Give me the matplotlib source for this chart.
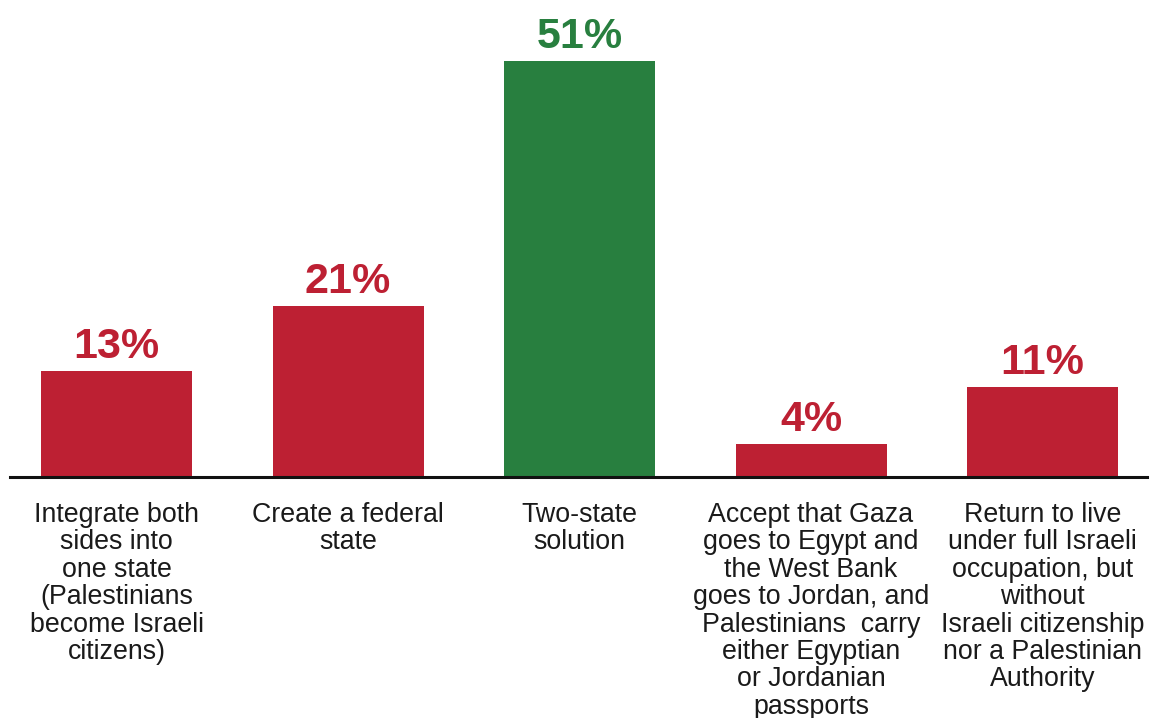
import matplotlib
matplotlib.use("Agg")
import matplotlib.pyplot as plt

categories = [
    "Integrate both\nsides into\none state\n(Palestinians\nbecome Israeli\ncitizens)",
    "Create a federal\nstate",
    "Two-state\nsolution",
    "Accept that Gaza\ngoes to Egypt and\nthe West Bank\ngoes to Jordan, and\nPalestinians  carry\neither Egyptian\nor Jordanian\npassports",
    "Return to live\nunder full Israeli\noccupation, but\nwithout\nIsraeli citizenship\nnor a Palestinian\nAuthority",
]
values = [13, 21, 51, 4, 11]
value_labels = ["13%", "21%", "51%", "4%", "11%"]

RED = "#BD2033"
GREEN = "#287F3F"
colors = [RED, RED, GREEN, RED, RED]

plt.rcParams['font.family'] = ['Liberation Sans', 'DejaVu Sans']

W, H = 1154, 718
fig = plt.figure(figsize=(W / 100, H / 100), dpi=100)
base_px = 477
left_px, right_px = 10, 1147
ax = fig.add_axes([left_px / W, (H - base_px) / H, (right_px - left_px) / W, base_px / H])

step = 231.5
c0 = 116.5
xs = list(range(len(values)))
ax.bar(xs, values, width=151 / step, color=colors, zorder=2)
ax.set_xlim((left_px - c0) / step, (right_px - c0) / step)
ax.set_ylim(0, base_px / 8.16)

for x, v, lab, col in zip(xs, values, value_labels, colors):
    ax.annotate(lab, (x, v), xytext=(0, 9.4), textcoords="offset points",
                ha="center", va="baseline", fontsize=31, fontweight="bold",
                color=col)

for x, cat in zip(xs, categories):
    ax.annotate(cat, (x, 0), xytext=(0, -18), textcoords="offset points",
                ha="center", va="top", fontsize=19.3, color="#1a1a1a",
                linespacing=1.07, multialignment="center", annotation_clip=False)

for s in ["top", "right", "left"]:
    ax.spines[s].set_visible(False)
ax.spines["bottom"].set_linewidth(2.2)
ax.spines["bottom"].set_color("#111111")
ax.spines["bottom"].set_zorder(3)
ax.set_xticks([])
ax.set_yticks([])
ax.patch.set_alpha(0)

fig.savefig("out.png", dpi=100)
